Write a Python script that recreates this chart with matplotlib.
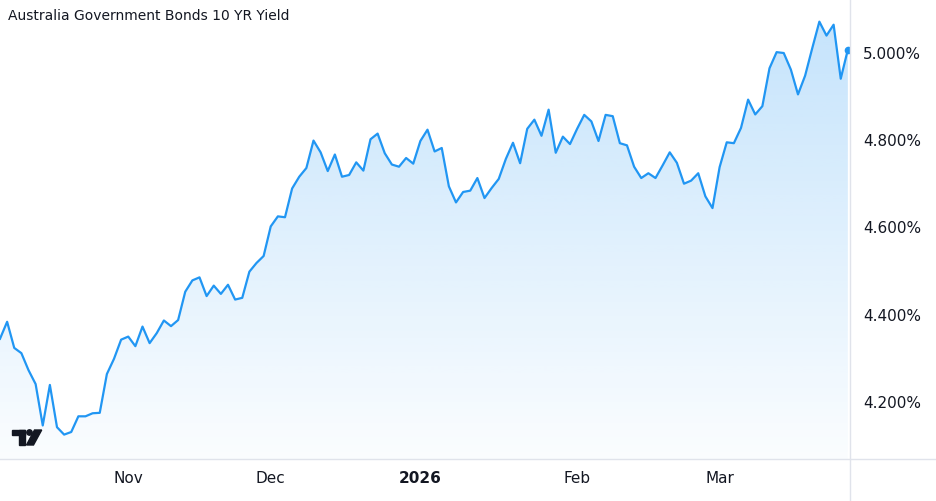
import matplotlib
matplotlib.use("Agg")
import matplotlib.pyplot as plt
import matplotlib.patches as mpatches
from matplotlib.lines import Line2D
import numpy as np
import pandas as pd

# data
title = "Australia Government Bonds 10 YR Yield"
start_date = "2025-10-08"
holidays = ["2025-12-25", "2025-12-26"]
yields = [
    4.342, 4.381, 4.321, 4.309, 4.270, 4.238, 4.143, 4.236, 4.139, 4.122,
    4.128, 4.164, 4.164, 4.171, 4.172, 4.261, 4.296, 4.340, 4.347, 4.325,
    4.370, 4.332, 4.355, 4.384, 4.371, 4.385, 4.450, 4.476, 4.483, 4.440,
    4.464, 4.445, 4.466, 4.432, 4.436, 4.496, 4.516, 4.532, 4.600, 4.623,
    4.621, 4.687, 4.714, 4.734, 4.797, 4.770, 4.727, 4.765, 4.714, 4.718,
    4.747, 4.728, 4.800, 4.813, 4.768, 4.742, 4.737, 4.757, 4.744, 4.796,
    4.822, 4.772, 4.780, 4.692, 4.655, 4.679, 4.682, 4.711, 4.665, 4.688,
    4.709, 4.755, 4.792, 4.745, 4.824, 4.845, 4.808, 4.868, 4.769, 4.806,
    4.789, 4.824, 4.856, 4.841, 4.796, 4.856, 4.853, 4.791, 4.786, 4.737,
    4.711, 4.722, 4.711, 4.740, 4.770, 4.746, 4.698, 4.705, 4.722, 4.669,
    4.642, 4.736, 4.793, 4.791, 4.826, 4.891, 4.857, 4.876, 4.963, 5.000,
    4.998, 4.960, 4.903, 4.946, 5.009, 5.070, 5.038, 5.063, 4.939, 5.006,
]
y_ticks = [4.2, 4.4, 4.6, 4.8, 5.0]

# trading days
dates = pd.bdate_range(start=start_date, periods=len(yields), freq="C", holidays=holidays)
x = np.arange(len(yields))

# month ticks on the first trading day of each month
tick_pos = []
tick_lab = []
for i in range(1, len(dates)):
    if dates[i].month != dates[i - 1].month:
        tick_pos.append(i)
        if dates[i].month == 1:
            tick_lab.append(str(dates[i].year))
        else:
            tick_lab.append(dates[i].strftime("%b"))

# colors
LINE = "#2196f3"
TEXT = "#131722"
GRID = "#e0e3eb"

W, H = 937, 502
fig = plt.figure(figsize=(W / 100, H / 100), dpi=100)
fig.patch.set_facecolor("white")
ax = fig.add_axes([0, 42 / H, 850 / W, 1 - 42 / H])

y_low, y_high = 4.066, 5.122
ax.set_xlim(0, 119.3)
ax.set_ylim(y_low, y_high)

# gradient area under the line
poly = ax.fill_between(x, yields, y_low, color="none", linewidth=0)
grad = np.zeros((256, 1, 4))
grad[:, 0, 0] = 33 / 255
grad[:, 0, 1] = 150 / 255
grad[:, 0, 2] = 243 / 255
grad[:, 0, 3] = np.linspace(0.26, 0.02, 256)
im = ax.imshow(grad, extent=[0, 119.3, y_low, max(yields)], aspect="auto",
               origin="upper", zorder=1, interpolation="bilinear")
im.set_clip_path(poly.get_paths()[0], transform=ax.transData)

# line
ax.plot(x, yields, color=LINE, lw=1.6, zorder=3, solid_joinstyle="round")
ax.plot(x[-1], yields[-1], "o", color=LINE, ms=4.5, zorder=4)

# axes look
for s in ax.spines.values():
    s.set_visible(False)
ax.set_facecolor("none")
ax.yaxis.tick_right()
ax.set_yticks(y_ticks)
ax.set_yticklabels(["%.3f%%" % v for v in y_ticks])
ax.tick_params(axis="y", length=0, pad=9.5, labelsize=11, labelcolor=TEXT)
ax.set_xticks(tick_pos)
ax.set_xticklabels(tick_lab)
ax.tick_params(axis="x", length=0, pad=8, labelsize=11, labelcolor=TEXT)
for lab in ax.get_xticklabels():
    if lab.get_text().isdigit():
        lab.set_fontweight("bold")

# frame lines
fig.add_artist(Line2D([0, 1], [1 - 460 / H, 1 - 460 / H], color=GRID, lw=1,
                      transform=fig.transFigure))
fig.add_artist(Line2D([850 / W, 850 / W], [0, 1], color=GRID, lw=1,
                      transform=fig.transFigure))

# title
fig.text(8 / W, 1 - 16 / H, title, ha="left", va="center", fontsize=10, color=TEXT)

# small logo in the corner
def px(xp, yp):
    return (xp / W, 1 - yp / H)

logo = "#131722"
fig.add_artist(mpatches.Polygon([px(12, 431), px(25, 431), px(25, 436), px(12, 436)],
                                closed=True, color=logo, transform=fig.transFigure))
fig.add_artist(mpatches.Polygon([px(18.5, 431), px(25, 431), px(25, 446), px(18.5, 446)],
                                closed=True, color=logo, transform=fig.transFigure))
fig.add_artist(mpatches.Ellipse(px(29.5, 433.5), 5.4 / W, 5.4 / H, color=logo,
                                transform=fig.transFigure))
fig.add_artist(mpatches.Polygon([px(34.5, 431), px(41.7, 431), px(33.5, 446), px(26.5, 446)],
                                closed=True, color=logo, transform=fig.transFigure))

fig.savefig("out.png", dpi=100, facecolor="white")
